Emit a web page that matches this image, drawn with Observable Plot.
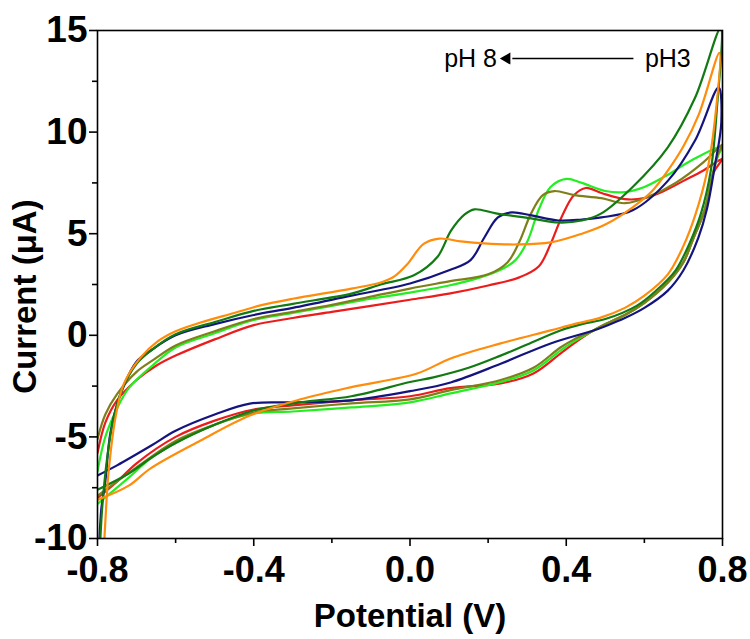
<!DOCTYPE html>
<html><head><meta charset="utf-8">
<script src="https://cdn.jsdelivr.net/npm/d3@7"></script>
<script src="https://cdn.jsdelivr.net/npm/@observablehq/plot@0.6"></script>
<style>body{margin:0;background:#fff}</style>
</head><body><div id="chart"></div>
<script>
const xTicks = [-0.8, -0.4, 0, 0.4, 0.8];
const xMinorTicks = [-0.6, -0.2, 0.2, 0.6];
const yTicks = [-10, -5, 0, 5, 10, 15];
const yMinorTicks = [-7.5, -2.5, 2.5, 7.5, 12.5];
const xTitle = "Potential (V)";
const yTitle = "Current (\u03bcA)";

const seriesNames = ["pH 3", "pH 4", "pH 5", "pH 6", "pH 7", "pH 8"];
const seriesColors = ["#ec1c1c", "#22ee22", "#7f7f1a", "#14147f", "#127a12", "#ff8c0a"];

const curvePH3 = [[-0.8,-5.8],[-0.78,-4.3],[-0.75,-3.2],[-0.7,-2.2],[-0.65,-1.5],[-0.6,-1.0],[-0.5,-0.2],[-0.4,0.5],[-0.3,0.85],[-0.2,1.15],[-0.1,1.45],[0,1.75],[0.1,2.05],[0.2,2.45],[0.28,2.85],[0.33,3.4],[0.36,4.5],[0.39,5.9],[0.42,6.9],[0.45,7.25],[0.49,7.0],[0.55,6.7],[0.6,6.75],[0.65,7.1],[0.7,7.6],[0.75,8.1],[0.8,8.7],
  [0.79,8.4],[0.777,8.0],[0.755,6.2],[0.726,4.8],[0.7,3.6],[0.66,2.6],[0.6,1.6],[0.55,1.0],[0.5,0.55],[0.47,0.24],[0.42,-0.4],[0.385,-0.9],[0.316,-1.88],[0.232,-2.37],[0.104,-2.6],[0,-3.0],[-0.15,-3.2],[-0.3,-3.45],[-0.4,-3.65],[-0.5,-4.2],[-0.6,-5.0],[-0.7,-6.3],[-0.75,-7.2],[-0.8,-8.0]];
const curvePH4 = [[-0.8,-6.7],[-0.78,-5.0],[-0.75,-3.6],[-0.72,-2.6],[-0.66,-1.5],[-0.6,-0.6],[-0.5,0.1],[-0.4,0.75],[-0.3,1.1],[-0.2,1.45],[-0.1,1.8],[0,2.1],[0.1,2.45],[0.18,2.85],[0.24,3.3],[0.27,3.7],[0.3,4.6],[0.33,6.2],[0.36,7.3],[0.4,7.7],[0.44,7.5],[0.5,7.1],[0.55,7.05],[0.6,7.3],[0.66,7.9],[0.72,8.6],[0.8,9.3],
  [0.79,8.9],[0.777,8.1],[0.755,6.2],[0.726,4.8],[0.7,3.6],[0.66,2.6],[0.6,1.6],[0.55,1.0],[0.5,0.55],[0.47,0.24],[0.42,-0.3],[0.385,-0.75],[0.316,-1.73],[0.232,-2.3],[0.104,-2.86],[0,-3.3],[-0.15,-3.55],[-0.3,-3.75],[-0.4,-3.85],[-0.5,-4.4],[-0.6,-5.3],[-0.66,-6.0],[-0.72,-7.0],[-0.8,-8.3]];
const curvePH5 = [[-0.8,-5.1],[-0.78,-3.9],[-0.75,-2.9],[-0.7,-1.8],[-0.66,-1.25],[-0.6,-0.5],[-0.5,0.2],[-0.4,0.8],[-0.3,1.15],[-0.2,1.5],[-0.1,1.9],[0,2.3],[0.1,2.65],[0.2,3.0],[0.25,3.6],[0.28,4.6],[0.31,6.0],[0.34,6.9],[0.37,7.1],[0.42,6.9],[0.49,6.75],[0.55,6.5],[0.62,6.9],[0.68,7.5],[0.75,8.5],[0.8,9.4],
  [0.79,9.0],[0.777,8.1],[0.755,6.2],[0.726,4.8],[0.7,3.6],[0.66,2.6],[0.6,1.6],[0.55,1.0],[0.5,0.55],[0.47,0.24],[0.42,-0.2],[0.385,-0.6],[0.316,-1.6],[0.232,-2.2],[0.104,-2.7],[0,-3.15],[-0.15,-3.35],[-0.3,-3.6],[-0.4,-3.8],[-0.5,-4.4],[-0.6,-5.2],[-0.7,-6.5],[-0.8,-7.9]];
const curvePH6 = [[-0.797,-11],[-0.79,-8.5],[-0.78,-7.2],[-0.767,-4.8],[-0.741,-2.9],[-0.7,-1.3],[-0.66,-0.7],[-0.6,0.0],[-0.5,0.55],[-0.4,1.0],[-0.3,1.35],[-0.15,1.95],[0,2.55],[0.1,3.2],[0.155,3.7],[0.19,4.8],[0.225,5.8],[0.26,6.05],[0.31,5.9],[0.38,5.65],[0.44,5.7],[0.49,5.8],[0.57,6.15],[0.66,7.6],[0.73,9.6],[0.79,12.2],
  [0.797,10.5],[0.78,8.3],[0.76,6.2],[0.738,4.8],[0.7,3.2],[0.66,2.2],[0.6,1.35],[0.55,0.85],[0.5,0.45],[0.47,0.24],[0.36,-0.4],[0.232,-1.4],[0.104,-2.32],[0,-2.75],[-0.15,-3.2],[-0.3,-3.3],[-0.41,-3.36],[-0.5,-3.9],[-0.6,-4.7],[-0.66,-5.4],[-0.75,-6.4],[-0.8,-6.9]];
const curvePH7 = [[-0.795,-11],[-0.788,-8.5],[-0.775,-6.0],[-0.76,-4.2],[-0.74,-2.8],[-0.7,-1.4],[-0.66,-0.7],[-0.6,0.05],[-0.5,0.65],[-0.4,1.2],[-0.3,1.55],[-0.15,2.05],[-0.075,2.5],[0.01,2.95],[0.07,3.85],[0.105,5.15],[0.14,5.95],[0.165,6.2],[0.22,6.0],[0.31,5.75],[0.38,5.55],[0.44,5.65],[0.49,6.0],[0.57,7.3],[0.66,9.25],[0.73,11.7],[0.795,15.1],
  [0.785,11],[0.77,8.1],[0.745,6.0],[0.715,4.5],[0.68,3.2],[0.63,2.2],[0.58,1.45],[0.5,0.8],[0.44,0.55],[0.385,0.24],[0.3,-0.45],[0.232,-1.0],[0.15,-1.6],[0.06,-2.07],[0,-2.3],[-0.15,-3.0],[-0.28,-3.3],[-0.4,-3.7],[-0.5,-4.4],[-0.6,-5.3],[-0.66,-6.0],[-0.72,-6.8],[-0.8,-7.6]];
const curvePH8 = [[-0.785,-11],[-0.778,-8.5],[-0.772,-6.8],[-0.754,-4.05],[-0.733,-2.4],[-0.69,-1.1],[-0.646,-0.3],[-0.6,0.2],[-0.536,0.63],[-0.45,1.1],[-0.383,1.47],[-0.3,1.8],[-0.15,2.3],[-0.075,2.6],[-0.04,2.9],[-0.007,3.5],[0.035,4.5],[0.075,4.76],[0.13,4.62],[0.19,4.52],[0.275,4.47],[0.36,4.57],[0.44,5.0],[0.5,5.45],[0.57,6.3],[0.62,7.1],[0.66,8.1],[0.7,9.3],[0.74,10.9],[0.792,13.9],
  [0.78,10.5],[0.761,8.1],[0.73,5.9],[0.7,4.4],[0.66,3.0],[0.6,1.95],[0.55,1.35],[0.488,0.87],[0.42,0.55],[0.36,0.24],[0.232,-0.4],[0.104,-1.14],[0.018,-1.88],[-0.15,-2.55],[-0.28,-3.15],[-0.41,-3.95],[-0.536,-5.18],[-0.664,-6.55],[-0.72,-7.4],[-0.8,-8.1]];
const curves = [curvePH3, curvePH4, curvePH5, curvePH6, curvePH7, curvePH8];

const annoLeftText = ["pH 8"];
const annoRightText = ["pH3"];
const annoArrowX = [0.572, 0.262];
const annoArrowTipX = [0.248];
const annoArrowY = [13.62, 13.62];
const annoTextX = [0.155, 0.66];

const data = seriesNames.flatMap((name, i) => curves[i].map(([x, y]) => ({name, x, y})));
const font = "'Liberation Sans', Arial, sans-serif";

const chart = Plot.plot({
  width: 750, height: 639,
  marginLeft: 97, marginRight: 28, marginTop: 30, marginBottom: 101,
  style: {fontFamily: font, color: "black", background: "white"},
  x: {domain: [-0.8, 0.8]},
  y: {domain: [-10, 15]},
  color: {domain: seriesNames, range: seriesColors},
  marks: [
    Plot.line(data, {x: "x", y: "y", z: "name", stroke: "name", strokeWidth: 2.2, curve: "catmull-rom", clip: true}),
    Plot.frame({stroke: "black", strokeWidth: 1.6}),
    Plot.axisX({ticks: xTicks, tickSize: 8, tickPadding: 10, tickFormat: d => d.toFixed(1), fontSize: 36, fontWeight: "bold", label: null, strokeWidth: 1.6}),
    Plot.axisX({ticks: xMinorTicks, tickSize: 5, tickFormat: () => "", label: null, strokeWidth: 1.6}),
    Plot.axisY({ticks: yTicks, tickSize: 8, tickPadding: 2, tickFormat: d => String(d), fontSize: 37, fontWeight: "bold", label: null, strokeWidth: 1.6}),
    Plot.axisY({ticks: yMinorTicks, tickSize: 5, tickFormat: () => "", label: null, strokeWidth: 1.6}),
    Plot.text([xTitle], {text: d => d, frameAnchor: "bottom", dy: 78, lineAnchor: "middle", textAnchor: "middle", fontSize: 33, fontWeight: "bold"}),
    Plot.text([yTitle], {text: d => d, frameAnchor: "left", dx: -72, dy: 12, rotate: -90, textAnchor: "middle", lineAnchor: "middle", fontSize: 33, fontWeight: "bold"}),
    Plot.link([0], {x1: annoArrowX[0], y1: annoArrowY[0], x2: annoArrowX[1], y2: annoArrowY[1], stroke: "black", strokeWidth: 1.6}),
    Plot.dot([0], {x: annoArrowTipX[0], y: annoArrowY[0], symbol: "triangle", r: 4.5, rotate: -90, fill: "black", stroke: "none"}),
    Plot.text(annoLeftText, {x: annoTextX[0], y: annoArrowY[0], text: d => d, fontSize: 25}),
    Plot.text(annoRightText, {x: annoTextX[1], y: annoArrowY[0], text: d => d, fontSize: 25})
  ]
});
document.getElementById("chart").appendChild(chart);
</script>
</body></html>
